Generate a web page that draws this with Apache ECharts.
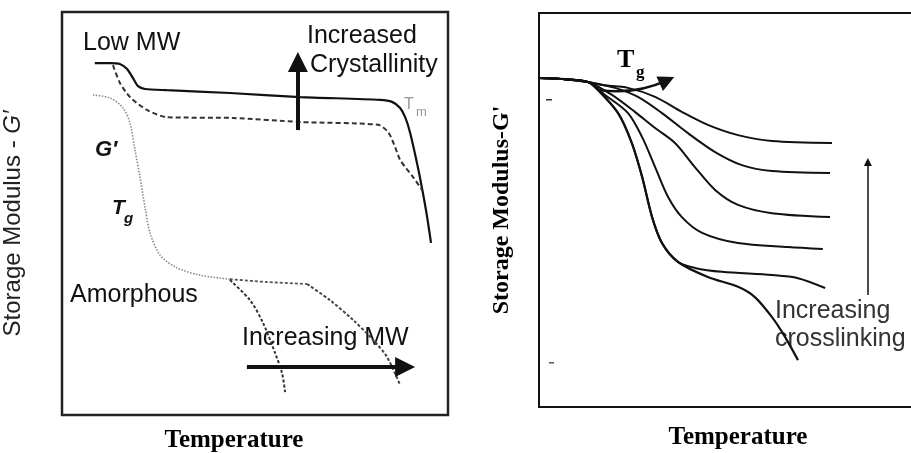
<!DOCTYPE html>
<html>
<head>
<meta charset="utf-8">
<script src="https://cdn.jsdelivr.net/npm/echarts@6/dist/echarts.min.js"></script>
<style>
  html, body { margin: 0; padding: 0; background: #fff; }
  #chart { width: 911px; height: 453px; }
</style>
</head>
<body>
<div id="chart"></div>
<script>
// Schematic storage modulus G' vs temperature, arbitrary units (0-100 on both axes).

// Left panel: semicrystalline and amorphous polymers
const semiHighCryst = [[8.5,87.3],[12.4,87.3],[15.0,87.1],[16.8,85.9],[18.4,83.6],[19.7,81.6],[21.5,80.9],[27.2,80.6],[43.5,79.9],[61.7,78.9],[82.4,78.2],[85.5,77.7],[87.6,76.2],[88.9,73.9],[90.2,70.0],[92.2,61.5],[93.5,55.1],[94.6,49.1],[95.6,42.7]];
const semiLowCryst = [[13.2,86.8],[15.0,82.4],[17.6,78.9],[22.0,75.7],[27.2,73.9],[44.3,73.7],[61.7,72.7],[81.9,72.0],[84.5,70.2],[86.3,66.5],[87.6,63.3],[90.9,59.1],[93.3,55.8]];
const amorphous = [[8.0,79.4],[12.4,78.7],[15.8,76.2],[17.6,72.5],[18.9,65.8],[20.2,59.1],[21.5,51.6],[22.8,45.2],[25.4,39.7],[29.8,36.5],[35.8,34.7],[43.5,33.7]];
const amorphousPlateau = [[43.5,33.7],[53.1,33.0],[63.5,32.5]];
const amorphousLowMW = [[43.5,33.5],[48.7,28.5],[52.1,22.8],[55.2,15.4],[57.0,10.4],[57.8,5.7]];
const amorphousHighMW = [[63.5,32.5],[69.4,28.5],[75.4,23.6],[80.6,18.6],[84.2,14.4],[87.6,7.4]];
const crystArrow = [[61.1,70.7],[61.1,87.6]];
const mwArrow = [[47.9,11.9],[88.9,11.9]];

// Right panel: effect of crosslinking
const glassy = [[0,83.5],[6.8,83.2],[12.8,82.5]];
const xlink1 = [[16.5,81.7],[23.3,81.0],[30.4,78.7],[37.4,74.9],[44.2,71.6],[52.1,69.0],[61.0,67.5],[76.7,67.0]];
const xlink2 = [[19.9,81.0],[25.9,78.7],[32.2,74.6],[39.0,69.5],[46.1,64.7],[53.1,61.4],[61.0,59.9],[76.2,59.4]];
const xlink3 = [[19.1,79.2],[25.1,74.9],[30.4,70.8],[35.6,67.0],[40.8,60.9],[46.1,55.1],[52.1,51.3],[61.0,49.2],[76.2,48.2]];
const xlink4 = [[17.3,79.2],[23.3,74.6],[27.0,68.5],[30.4,60.9],[33.8,53.3],[37.4,48.2],[42.7,44.2],[52.1,41.6],[65.2,40.6],[74.3,40.1]];
const xlink5 = [[15.4,80.5],[20.7,74.6],[24.3,67.0],[27.0,58.4],[29.6,48.2],[32.2,41.6],[36.4,36.8],[40.8,35.3],[47.9,34.3],[61.0,33.5],[67.8,32.7],[74.9,30.2]];
const xlink0 = [[15.4,80.5],[20.7,74.6],[24.3,67.0],[27.0,58.4],[29.6,48.2],[32.2,41.6],[36.4,36.8],[44.2,33.0],[52.1,30.5],[56.5,27.9],[61.0,22.8],[64.4,17.8],[67.8,11.9]];
const tgArrow = [[15.4,80.5],[33.5,82.9]];
const xlinkArrow = [[86.1,28.4],[86.1,62.2]];

const SANS = '"Liberation Sans", Arial, sans-serif';
const SERIF = '"Liberation Serif", "Times New Roman", serif';

function curve(data, xi, color, width, type, smooth) {
  return {
    type: 'line', xAxisIndex: xi, yAxisIndex: xi, data: data,
    showSymbol: false, smooth: smooth === undefined ? 0.3 : smooth,
    lineStyle: { color: color, width: width, type: type || 'solid' },
    silent: true, z: 3
  };
}
function arrow(coords, xi, width, size, curveness) {
  return {
    type: 'lines', coordinateSystem: 'cartesian2d', xAxisIndex: xi, yAxisIndex: xi,
    symbol: ['none', 'triangle'], symbolSize: size,
    lineStyle: { color: '#111', width: width, opacity: 1, curveness: curveness || 0 },
    data: [{ coords: coords }], silent: true, z: 4
  };
}
function axisBase(extra) {
  return Object.assign({
    type: 'value', min: 0, max: 100,
    axisLine: { show: false }, axisTick: { show: false },
    axisLabel: { show: false }, splitLine: { show: false }
  }, extra);
}

const chart = echarts.init(document.getElementById('chart'), null, { renderer: 'canvas' });
chart.setOption({
  backgroundColor: '#fff',
  animation: false,
  grid: [
    { left: 62, top: 12, width: 386, height: 403, outerBoundsMode: 'none', containLabel: false,
      show: true, borderColor: '#222', borderWidth: 2.5, backgroundColor: 'transparent' },
    { left: 539, top: 13, width: 382, height: 394, outerBoundsMode: 'none', containLabel: false,
      show: true, borderColor: '#111', borderWidth: 2, backgroundColor: 'transparent' }
  ],
  xAxis: [
    axisBase({ gridIndex: 0, name: 'Temperature', nameLocation: 'middle', nameGap: 13,
      nameTextStyle: { fontFamily: SERIF, fontWeight: 'bold', fontSize: 25, color: '#000', padding: [0, 42, 0, 0] } }),
    axisBase({ gridIndex: 1, name: 'Temperature', nameLocation: 'middle', nameGap: 18,
      nameTextStyle: { fontFamily: SERIF, fontWeight: 'bold', fontSize: 25, color: '#000', padding: [0, 0, 0, 16] } })
  ],
  yAxis: [
    axisBase({ gridIndex: 0, name: 'Storage Modulus - {i|G′}', nameLocation: 'middle', nameGap: 37,
      nameTextStyle: { fontFamily: SANS, fontSize: 24, color: '#222', padding: [0, 20, 0, 0],
        rich: { i: { fontFamily: SANS, fontSize: 24, fontStyle: 'italic', color: '#222' } } } }),
    axisBase({ gridIndex: 1, name: "Storage Modulus-G'", nameLocation: 'middle', nameGap: 25,
      nameTextStyle: { fontFamily: SERIF, fontWeight: 'bold', fontSize: 24, color: '#000' } })
  ],
  series: [
    curve(semiHighCryst, 0, '#111', 2.2, 'solid', 0.25),
    curve(semiLowCryst, 0, '#333', 2, [5, 3], 0.25),
    curve(amorphous, 0, '#8a8a8a', 1.6, [1.5, 1.5], 0.3),
    curve(amorphousPlateau, 0, '#555', 1.8, [3, 2], 0.3),
    curve(amorphousLowMW, 0, '#333', 2, [3, 2], 0.3),
    curve(amorphousHighMW, 0, '#444', 2, [3, 2], 0.3),
    arrow(crystArrow, 0, 4, 20),
    arrow(mwArrow, 0, 4, 20),
    curve(glassy, 1, '#111', 2, 'solid', 0.3),
    curve(glassy.concat(xlink1), 1, '#111', 2, 'solid', 0.3),
    curve(glassy.concat(xlink2), 1, '#111', 2, 'solid', 0.3),
    curve(glassy.concat(xlink3), 1, '#111', 2, 'solid', 0.3),
    curve(glassy.concat(xlink4), 1, '#111', 2, 'solid', 0.3),
    curve(glassy.concat(xlink5), 1, '#111', 2, 'solid', 0.3),
    curve(glassy.concat(xlink0), 1, '#111', 2.2, 'solid', 0.3),
    arrow(tgArrow, 1, 2.5, 16, -0.15),
    arrow(xlinkArrow, 1, 1.5, 8)
  ],
  graphic: [
    { type: 'text', left: 83, top: 31, style: { text: 'Low MW', font: '25px ' + SANS, fill: '#111' } },
    { type: 'text', left: 307, top: 24, style: { text: 'Increased', font: '25px ' + SANS, fill: '#111' } },
    { type: 'text', left: 310, top: 53, style: { text: 'Crystallinity', font: '25px ' + SANS, fill: '#111' } },
    { type: 'text', left: 404, top: 97, style: { text: 'T', font: '16px ' + SANS, fill: '#999' } },
    { type: 'text', left: 416, top: 106, style: { text: 'm', font: '13px ' + SANS, fill: '#999' } },
    { type: 'text', left: 95, top: 139, style: { text: 'G′', font: 'italic bold 22px ' + SANS, fill: '#111' } },
    { type: 'text', left: 112, top: 198, style: { text: 'T', font: 'italic bold 21px ' + SANS, fill: '#111' } },
    { type: 'text', left: 124, top: 211, style: { text: 'g', font: 'italic bold 15px ' + SANS, fill: '#111' } },
    { type: 'text', left: 70, top: 283, style: { text: 'Amorphous', font: '25px ' + SANS, fill: '#111' } },
    { type: 'text', left: 242, top: 326, style: { text: 'Increasing MW', font: '25px ' + SANS, fill: '#111' } },
    { type: 'text', left: 617, top: 47, style: { text: 'T', font: 'bold 26px ' + SERIF, fill: '#000' } },
    { type: 'text', left: 636, top: 64, style: { text: 'g', font: 'bold 17px ' + SERIF, fill: '#000' } },
    { type: 'text', left: 775, top: 299, style: { text: 'Increasing', font: '25px ' + SANS, fill: '#333' } },
    { type: 'text', left: 775, top: 327, style: { text: 'crosslinking', font: '25px ' + SANS, fill: '#333' } },
    { type: 'rect', shape: { x: 546, y: 99, width: 6, height: 1.5 }, style: { fill: '#333' } },
    { type: 'rect', shape: { x: 549, y: 362, width: 5, height: 1.5 }, style: { fill: '#555' } }
  ]
});
</script>
</body>
</html>
